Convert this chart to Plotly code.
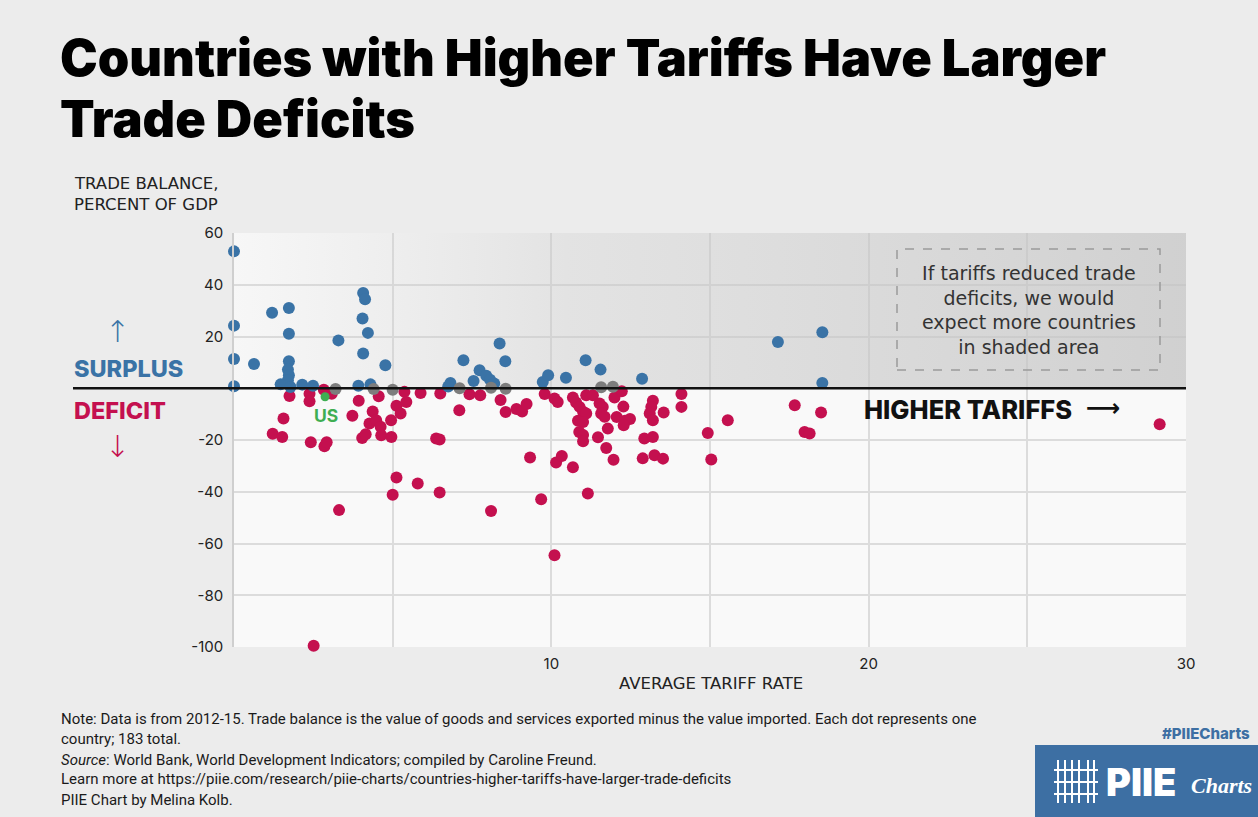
import plotly.graph_objects as go

# ---------------- data ----------------
surplus_x = [0, 0, 0, 0, 0.63, 1.2, 1.73, 1.73, 1.73, 1.7, 1.73, 1.7, 1.47, 1.78, 2.15, 2.49,
             3.29, 4.07, 4.13, 4.05, 4.22, 4.07, 3.92, 4.3, 4.77, 6.82, 6.75, 7.23, 7.55, 7.74,
             7.95, 8.07, 8.2, 8.37, 8.55, 9.73, 9.9, 10.46, 11.08, 11.55, 12.86, 17.14, 18.54, 18.54]
surplus_y = [52.9, 24.2, 11.3, 0.8, 9.4, 29.2, 31.0, 21.1, 10.4, 7.2, 5.0, 3.1, 1.5, 0.5, 1.4, 1.0,
             18.5, 36.8, 34.4, 27.0, 21.4, 13.4, 1.0, 1.5, 8.9, 2.0, 0.7, 10.8, 2.8, 7.0,
             4.8, 3.3, 1.8, 17.3, 10.4, 2.4, 5.0, 4.1, 10.8, 7.2, 3.7, 17.9, 21.6, 2.0]

balanced_x = [3.2, 4.4, 5.0, 7.11, 8.1, 8.56, 11.57, 11.94]
balanced_y = [-0.3, -0.3, -0.6, 0.0, 0.2, -0.2, 0.4, 0.6]

deficit_x = [1.75, 1.56, 1.22, 1.52, 2.38, 2.38, 2.83, 3.08, 2.42, 2.85, 2.92, 2.51, 3.31,
             3.73, 3.93, 4.04, 4.15, 4.37, 4.27, 4.48, 4.62, 4.56, 4.64, 4.95, 4.96, 5.12, 5.25,
             5.37, 5.43, 5.12, 5.0, 5.79, 5.88, 6.37, 6.48, 6.5, 6.48, 7.1, 7.42, 7.76, 8.1, 8.4,
             8.56, 8.9, 9.08, 9.22, 9.33, 9.68, 9.79, 10.1, 10.1, 10.2, 10.15, 10.33, 10.68, 10.68,
             10.78, 10.89, 11.0, 11.1, 10.84, 11.0, 10.88, 11.0, 11.0, 11.15, 11.1, 11.31, 11.52,
             11.62, 11.57, 11.68, 11.47, 11.78, 11.73, 11.96, 11.99, 12.22, 12.27, 12.06, 12.32,
             12.48, 12.28, 13.2, 13.15, 13.1, 13.2, 13.54, 14.1, 14.1, 12.93, 13.2, 12.88, 13.25,
             13.52, 14.93, 15.04, 15.56, 17.67, 17.98, 18.14, 18.5, 29.17]
deficit_y = [-3.0, -11.7, -17.6, -18.8, -2.1, -5.0, -0.6, -2.1, -20.9, -22.4, -20.9, -99.5, -47.1,
             -10.6, -4.8, -19.2, -17.8, -9.0, -13.6, -12.4, -14.9, -3.1, -18.2, -12.4, -18.8, -6.8, -9.8,
             -1.4, -5.3, -34.5, -41.2, -36.8, -1.8, -19.4, -19.8, -2.0, -40.3, -8.5, -2.3, -2.7, -47.4, -4.5,
             -9.2, -8.0, -9.0, -6.1, -26.8, -42.9, -2.2, -64.5, -4.0, -5.3, -28.7, -26.2, -30.5, -3.6,
             -5.5, -7.2, -9.1, -9.8, -12.6, -13.0, -16.9, -18.1, -20.5, -40.7, -2.7, -2.7, -5.9,
             -7.2, -9.8, -11.0, -18.9, -15.6, -23.1, -27.6, -3.6, -1.2, -7.1, -11.1, -12.6,
             -11.9, -14.3, -4.8, -7.2, -9.8, -12.4, -9.4, -2.2, -7.2, -19.4, -18.8, -27.1, -25.9,
             -27.2, -17.3, -27.5, -12.4, -6.6, -16.9, -17.5, -9.4, -13.9]

us_x = [2.87]
us_y = [-3.3]

x_tickvals = [5, 10, 15, 20, 25, 30]
x_ticktext = ["", "10", "", "20", "", "30"]
y_tickvals = [-100, -80, -60, -40, -20, 0, 20, 40, 60]
y_ticktext = ["-100", "-80", "-60", "-40", "-20", "", "20", "40", "60"]

BLUE = "#3a73a6"
RED = "#c4104f"
GRAY = "#7d7d7d"
GREEN = "#3fae52"
FONT = "Inter, Lato, sans-serif"
WIDE = "DejaVu Sans, sans-serif"
NOTE_FONT = "Roboto, sans-serif"

# plot area in pixels
L, R, T, B = 234, 1186, 233, 647
W_PX, H_PX = 1258, 817


def pxx(p):
    return (p - L) / (R - L)


def pxy(p):
    return (B - p) / (B - T)


fig = go.Figure()

# shaded area (gradient)
fig.add_trace(go.Scatter(
    x=[0, 30, 30, 0, 0], y=[0, 0, 60, 60, 0], mode="lines", fill="toself",
    line=dict(width=0), hoverinfo="skip", showlegend=False,
    fillgradient=dict(type="horizontal",
                      colorscale=[[0, "rgba(205,205,205,0.05)"],
                                  [0.35, "rgba(200,200,200,0.45)"],
                                  [1, "rgba(195,195,195,0.75)"]]),
))

marker_common = dict(size=12, line=dict(width=0))
fig.add_trace(go.Scatter(x=deficit_x, y=deficit_y, mode="markers", cliponaxis=False,
                         marker=dict(color=RED, **marker_common), showlegend=False))
fig.add_trace(go.Scatter(x=surplus_x, y=surplus_y, mode="markers", cliponaxis=False,
                         marker=dict(color=BLUE, **marker_common), showlegend=False))
fig.add_trace(go.Scatter(x=balanced_x, y=balanced_y, mode="markers", cliponaxis=False,
                         marker=dict(color=GRAY, **marker_common), showlegend=False))
fig.add_trace(go.Scatter(x=us_x, y=us_y, mode="markers", cliponaxis=False,
                         marker=dict(color=GREEN, size=9, line=dict(width=0)), showlegend=False))

shapes = []
# zero line extending left under SURPLUS/DEFICIT
shapes.append(dict(type="line", xref="paper", yref="y", x0=pxx(73), x1=1.0, y0=0, y1=0,
                   line=dict(color="#111111", width=2.5), layer="above"))
# dashed box
shapes.append(dict(type="rect", xref="paper", yref="paper",
                   x0=pxx(897), x1=pxx(1160), y0=pxy(370), y1=pxy(249),
                   line=dict(color="#9a9a9a", width=1.5, dash="dash"), layer="above"))
# logo rectangle
shapes.append(dict(type="rect", xref="paper", yref="paper",
                   x0=pxx(1035), x1=pxx(1262), y0=pxy(820), y1=pxy(745),
                   fillcolor="#3d6fa3", line=dict(width=0), layer="above"))
# logo icon lines
for xv in [1058, 1065, 1072, 1079, 1088, 1094]:
    shapes.append(dict(type="line", xref="paper", yref="paper",
                       x0=pxx(xv), x1=pxx(xv), y0=pxy(803), y1=pxy(760),
                       line=dict(color="white", width=2), layer="above"))
for yv in [770, 782, 794]:
    shapes.append(dict(type="line", xref="paper", yref="paper",
                       x0=pxx(1054), x1=pxx(1098), y0=pxy(yv), y1=pxy(yv),
                       line=dict(color="white", width=2), layer="above"))

annotations = []


def ann(text, x, y, size, color="#222222", xanchor="left", yanchor="middle", family=FONT,
        weight="normal", style="normal"):
    annotations.append(dict(text=text, x=pxx(x), y=pxy(y), xref="paper", yref="paper",
                            showarrow=False, xanchor=xanchor, yanchor=yanchor, align="left",
                            font=dict(size=size, color=color, family=family, weight=weight,
                                      style=style)))


# title
ann("Countries with Higher Tariffs Have Larger", 58, 58, 50.5, "#000000", weight=900)
ann("Trade Deficits", 58, 118, 50.5, "#000000", weight=900)

# y axis title
ann("TRADE BALANCE,", 72, 184, 16.5, family=WIDE)
ann("PERCENT OF GDP", 72, 205, 16.5, family=WIDE)

# surplus / deficit
ann("↑", 117, 331, 30, BLUE, xanchor="center", family="DejaVu Sans, sans-serif", weight=200)
ann("SURPLUS", 72, 368, 23.5, BLUE, weight=800)
ann("DEFICIT", 72, 410, 23.5, RED, weight=800)
ann("↓", 117, 446, 30, RED, xanchor="center", family="DejaVu Sans, sans-serif", weight=200)

ann("US", 326, 415, 17.5, GREEN, xanchor="center", weight=700)

ann("HIGHER TARIFFS", 862, 409, 25.5, "#111111", weight=800)
ann("⟶", 1084, 408, 24, "#111111", family=WIDE, weight=700)

# box text
annotations.append(dict(
    text="If tariffs reduced trade<br>deficits, we would<br>expect more countries<br>in shaded area",
    x=pxx(1029), y=pxy(310), xref="paper", yref="paper", showarrow=False, align="center",
    xanchor="center", yanchor="middle",
    font=dict(size=19, color="#333333", family=WIDE)))

# x axis title
ann("AVERAGE TARIFF RATE", 711, 683, 16.5, xanchor="center", family=WIDE)

# notes
notes = [
    ("Note: Data is from 2012-15. Trade balance is the value of goods and services exported minus the value imported. Each dot represents one", 719),
    ("country; 183 total.", 739),
    ("<i>Source</i>: World Bank, World Development Indicators; compiled by Caroline Freund.", 760),
    ("Learn more at https://piie.com/research/piie-charts/countries-higher-tariffs-have-larger-trade-deficits", 779),
    ("PIIE Chart by Melina Kolb.", 800),
]
for t, yv in notes:
    ann(t, 59, yv, 15, "#1a1a1a", family=NOTE_FONT)

# logo text
ann("#PIIECharts", 1160, 733, 15, "#3d6fa3", weight=800)
ann("PIIE", 1104, 782, 38, "white", weight=900)
ann("Charts", 1189, 785, 22, "white", family="Liberation Serif, serif", weight=700, style="italic")

fig.update_layout(
    width=W_PX, height=H_PX,
    margin=dict(l=L, r=W_PX - R, t=T, b=H_PX - B, pad=0),
    paper_bgcolor="#ececec",
    plot_bgcolor="#f9f9f9",
    showlegend=False,
    font=dict(family=FONT, color="#222222"),
    shapes=shapes,
    annotations=annotations,
    xaxis=dict(range=[0, 30], tickvals=x_tickvals, ticktext=x_ticktext, showgrid=True,
               gridcolor="#dcdcdc", gridwidth=1.5, zeroline=False, showline=False,
               tickfont=dict(size=15, color="#222222"), ticks="", ticklabelstandoff=6),
    yaxis=dict(range=[-100, 60], tickvals=y_tickvals, ticktext=y_ticktext, showgrid=True,
               gridcolor="#dcdcdc", gridwidth=1.5, zeroline=False, showline=True,
               linecolor="#cfcfcf", linewidth=1.5,
               tickfont=dict(size=15, color="#222222"), ticks="", ticklabelstandoff=6),
)

fig.write_html("out.html")
